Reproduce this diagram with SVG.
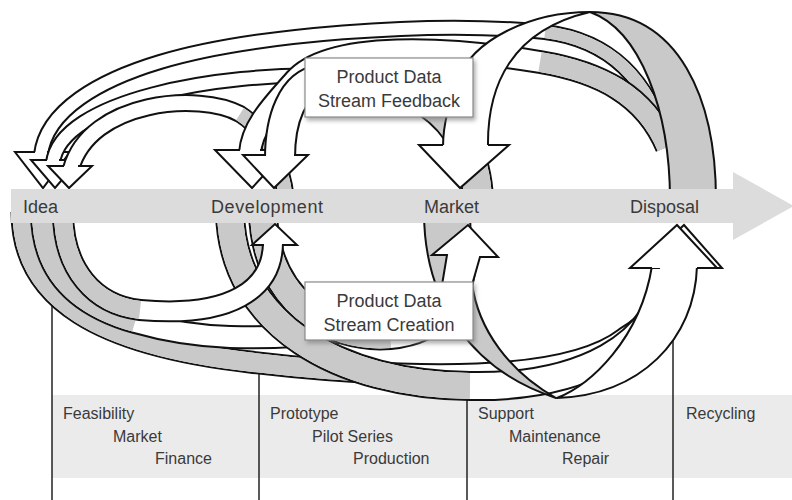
<svg xmlns="http://www.w3.org/2000/svg" width="792" height="500" viewBox="0 0 792 500">
<style>
.o{fill:none;stroke:#111}
.w{fill:none;stroke:#fff}
.g{fill:none;stroke:#c9c9c9}
.sh{fill:#c9c9c9;stroke:#111;stroke-width:2;stroke-linejoin:round}
.wh{fill:#fff;stroke:#111;stroke-width:2;stroke-linejoin:round}
.ah{fill:#fff;stroke:#111;stroke-width:2;stroke-linejoin:miter}
.t{font-family:"Liberation Sans",Arial,sans-serif;fill:#3a3a3a}
.lbl{font-size:18px}
.box{fill:#fff;stroke:#8a8a8a;stroke-width:1.2}
.bt{font-size:18px;text-anchor:middle}
.tb{font-size:16px}
.vl{stroke:#222;stroke-width:1.5}
</style>
<defs>
<filter id="sd" x="-10%" y="-10%" width="130%" height="140%"><feDropShadow dx="2" dy="3" stdDeviation="2" flood-color="#777" flood-opacity="0.6"/></filter>
<path id="tDI" d="M667,147 C650,80 610,40 545,32 C430,20 250,35 160,62 C100,80 46,110 41,155"/>
<path id="tDIg" d="M667,147 C650,80 610,40 545,32"/>
<path id="tMI" d="M480,200 C477,125 420,80 330,76 C220,72 60,100 53,163"/>
<path id="tMIg" d="M480,200 C477,125 420,80 330,76"/>
<path id="tDevI" d="M286,200 C282,160 265,130 240,114 C200,92 90,100 71,169"/>
<path id="tDevIg" d="M286,200 C282,160 265,130 240,114"/>
<path id="tDD" d="M667,147 C645,95 600,72 540,62 C450,47 330,40 295,80 C275,103 252,125 250,153"/>
<path id="tDDg" d="M667,147 C645,95 600,72 540,62"/>
<path id="tMD" d="M478,200 C475,110 400,70 320,80 C292,84 280,120 280,158"/>
<path id="tMDg" d="M478,200 C475,110 400,70 320,80"/>
<path id="bIP" d="M22,212 C22,300 100,345 250,362 C300,368 350,372 400,374 C520,378 590,365 625,338 C652,322 668,300 670,262"/>
<path id="bIPg" d="M22,212 C22,300 100,345 250,362 C300,368 350,372 400,374"/>
<path id="bIM" d="M42,212 C42,270 75,305 135,322 C170,332 200,336 230,337 C350,340 455,320 463,250"/>
<path id="bIMg" d="M42,212 C42,270 75,305 135,322"/>
<path id="bDP" d="M230,212 C232,325 340,385 470,386 C575,388 665,350 670,262"/>
<path id="bDPg" d="M230,212 C232,325 340,385 470,386"/>
<path id="bDM" d="M263,212 C265,300 330,340 390,335 C440,330 462,300 463,250"/>
<path id="bDMg" d="M263,212 C265,300 330,340 390,335"/>
<path id="bID" d="M63,212 C63,270 95,305 140,310 C230,318 273,290 273,242"/>
<path id="bIDg" d="M63,212 C63,270 95,305 140,310"/>
</defs>

<g id="table">
<rect x="52" y="395" width="740" height="83" fill="#ebebeb"/>
<line class="vl" x1="52" y1="292" x2="52" y2="500"/>
<line class="vl" x1="259" y1="370" x2="259" y2="500"/>
<line class="vl" x1="467" y1="390" x2="467" y2="500"/>
<line class="vl" x1="673" y1="330" x2="673" y2="500"/>
<text class="t tb" x="63" y="419">Feasibility</text>
<text class="t tb" x="113" y="442">Market</text>
<text class="t tb" x="155" y="464">Finance</text>
<text class="t tb" x="270" y="419">Prototype</text>
<text class="t tb" x="312" y="442">Pilot Series</text>
<text class="t tb" x="353" y="464">Production</text>
<text class="t tb" x="478" y="419">Support</text>
<text class="t tb" x="509" y="442">Maintenance</text>
<text class="t tb" x="562" y="464">Repair</text>
<text class="t tb" x="686" y="419">Recycling</text>
</g>

<g id="connectors">
<!-- feedback ribbons (above the timeline) -->
<g id="fb-disposal-idea"><use href="#tDI" class="o" stroke-width="16"/><use href="#tDI" class="w" stroke-width="12"/><use href="#tDIg" class="g" stroke-width="12"/>
<path class="ah" d="M35,152 L15,152 L43,188 L70,152 L47,152"/></g>
<g id="fb-market-idea"><use href="#tMI" class="o" stroke-width="16"/><use href="#tMI" class="w" stroke-width="12"/><use href="#tMIg" class="g" stroke-width="12"/>
<path class="ah" d="M47,160 L31,160 L55,188 L79,160 L59,160"/></g>
<g id="fb-development-idea"><use href="#tDevI" class="o" stroke-width="18"/><use href="#tDevI" class="w" stroke-width="14"/><use href="#tDevIg" class="g" stroke-width="14"/>
<path class="ah" d="M64,166 L48,166 L69,188 L92,166 L78,166"/></g>
<g id="fb-disposal-development"><use href="#tDD" class="o" stroke-width="24"/><use href="#tDD" class="w" stroke-width="20"/><use href="#tDDg" class="g" stroke-width="20"/>
<path class="ah" d="M240,150 L215,150 L252,188 L287,150 L260,150"/></g>
<g id="fb-market-development"><use href="#tMD" class="o" stroke-width="32"/><use href="#tMD" class="w" stroke-width="28"/><use href="#tMDg" class="g" stroke-width="28"/>
<path class="ah" d="M266,155 L243,155 L274,188 L308,155 L294,155"/></g>
<g id="fb-disposal-market">
<path class="sh" d="M716,200 C716,100 680,12 590,12 C640,30 670,110 670,200 Z"/>
<path class="wh" d="M590,12 C530,12 472,40 458,80 C450,102 443,122 443,147 L488,147 C487,85 512,30 590,12 Z"/>
<path class="ah" d="M443,145 L419,145 L460,188 L509,145 L488,145"/></g>

<!-- creation ribbons (below the timeline) -->
<g id="cr-idea-disposal"><use href="#bIP" class="o" stroke-width="23"/><use href="#bIP" class="w" stroke-width="19"/><use href="#bIPg" class="g" stroke-width="19"/></g>
<g id="cr-idea-market"><use href="#bIM" class="o" stroke-width="24"/><use href="#bIM" class="w" stroke-width="20"/><use href="#bIMg" class="g" stroke-width="20"/></g>
<g id="cr-development-disposal"><use href="#bDP" class="o" stroke-width="30"/><use href="#bDP" class="w" stroke-width="26"/><use href="#bDPg" class="g" stroke-width="26"/></g>
<g id="cr-development-market"><use href="#bDM" class="o" stroke-width="30"/><use href="#bDM" class="w" stroke-width="26"/><use href="#bDMg" class="g" stroke-width="26"/></g>
<g id="cr-idea-development"><use href="#bID" class="o" stroke-width="22"/><use href="#bID" class="w" stroke-width="18"/><use href="#bIDg" class="g" stroke-width="18"/>
<path class="ah" d="M264,245 L252,245 L275,224 L297,245 L282,245"/></g>
<g id="cr-market-disposal">
<path class="sh" d="M424,212 C424,300 470,370 556,398 C510,372 478,330 472,283 L470,212 Z"/>
<path class="ah" d="M442,285 L447,255 L432,255 L468,225 L498,257 L480,257 L472,285"/>
<path class="wh" d="M557,398 C590,385 640,340 652,266 L697,266 C695,340 640,395 557,398 Z"/>
<path class="ah" d="M660,268 L638,268 L684,225 L722,268 L702,268"/>
<path class="ah" d="M652,268 L630,268 L677,225 L717,268 L697,268"/></g>
</g>

<g id="timeline">
<path d="M11,189 L733,189 L733,172 L794,206 L733,240 L733,223 L11,223 Z" fill="#dcdcdc"/>
<text class="t lbl" x="23" y="213">Idea</text>
<text class="t lbl" x="211" y="213" textLength="112">Development</text>
<text class="t lbl" x="424" y="213">Market</text>
<text class="t lbl" x="630" y="213">Disposal</text>
</g>

<g id="node-feedback">
<rect class="box" x="305" y="58" width="168" height="59" filter="url(#sd)"/>
<text class="t bt" x="389" y="83">Product Data</text>
<text class="t bt" x="389" y="107">Stream Feedback</text>
</g>
<g id="node-creation">
<rect class="box" x="305" y="282" width="168" height="58" filter="url(#sd)"/>
<text class="t bt" x="389" y="307">Product Data</text>
<text class="t bt" x="389" y="331">Stream Creation</text>
</g>
</svg>
